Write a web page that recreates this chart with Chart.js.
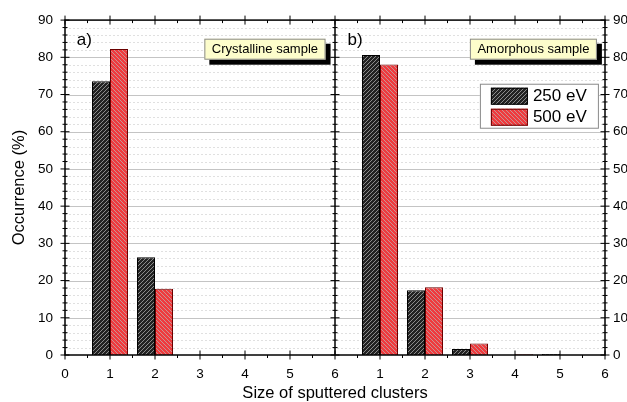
<!DOCTYPE html>
<html>
<head>
<meta charset="utf-8">
<script src="https://cdn.jsdelivr.net/npm/chart.js@4.4.0/dist/chart.umd.min.js"></script>
<style>
  html, body { margin: 0; padding: 0; background: #fff; }
  #wrap { width: 627px; height: 402px; }
</style>
</head>
<body>
<div id="wrap"><canvas id="chart"></canvas></div>
<script>
// cluster sizes and occurrence (%)
const sizes = [1, 2, 3, 4, 5];
const crystal250 = [73.6, 26.3, null, null, null];
const crystal500 = [82.2, 17.8, null, null, null];
const amorph250 = [80.6, 17.4, 1.6, null, 0.3];
const amorph500 = [78.1, 18.2, 3.1, 0.2, null];
const energies = ['250 eV', '500 eV'];
const panelLabels = ['a)', 'b)'];
const sampleLabels = ['Crystalline sample', 'Amorphous sample'];
const SHIFT = 6; // right panel starts where the left one ends

const FONT = 'Arial, "Liberation Sans", Helvetica, sans-serif';

function hatch(bg, line, dir) {
  const s = 4;
  const c = document.createElement('canvas');
  c.width = s; c.height = s;
  const g = c.getContext('2d');
  g.fillStyle = bg;
  g.fillRect(0, 0, s, s);
  g.strokeStyle = line;
  g.lineWidth = 0.9;
  g.beginPath();
  if (dir > 0) {
    g.moveTo(-1, s + 1); g.lineTo(s + 1, -1);
    g.moveTo(-1, 1); g.lineTo(1, -1);
    g.moveTo(s - 1, s + 1); g.lineTo(s + 1, s - 1);
  } else {
    g.moveTo(-1, -1); g.lineTo(s + 1, s + 1);
    g.moveTo(-1, s - 1); g.lineTo(1, s + 1);
    g.moveTo(s - 1, -1); g.lineTo(s + 1, 1);
  }
  g.stroke();
  return document.getElementById('chart').getContext('2d').createPattern(c, 'repeat');
}

const blackFill = hatch('#222', '#999', 1);
const redFill = hatch('#f03a3d', '#c49c9c', -1);

function points(left, right) {
  const a = sizes.map((s, i) => ({ x: s, y: left[i] }));
  const b = sizes.map((s, i) => ({ x: s + SHIFT, y: right[i] }));
  return a.concat(b).filter(p => p.y !== null);
}

const decor = {
  id: 'decor',
  beforeDatasetsDraw(chart) {
    const { ctx, chartArea: a, scales: { y } } = chart;
    ctx.save();
    for (let v = 2; v < 90; v += 2) {
      const py = Math.round(y.getPixelForValue(v)) + 0.5;
      ctx.beginPath();
      if (v % 10 === 0) {
        ctx.setLineDash([]);
        ctx.strokeStyle = '#c4c4c4';
      } else {
        ctx.setLineDash([2, 2]);
        ctx.strokeStyle = '#e0e0e0';
      }
      ctx.lineWidth = 1;
      ctx.moveTo(a.left, py);
      ctx.lineTo(a.right, py);
      ctx.stroke();
    }
    ctx.restore();
  },
  afterDatasetsDraw(chart) {
    const { ctx, chartArea: a, scales: { x, y } } = chart;
    ctx.save();
    ctx.strokeStyle = '#000';
    ctx.fillStyle = '#000';
    ctx.lineWidth = 1.5;
    // frame and shared middle axis
    ctx.strokeRect(a.left, a.top, a.right - a.left, a.bottom - a.top);
    const mid = x.getPixelForValue(SHIFT);
    ctx.beginPath();
    ctx.moveTo(mid, a.top); ctx.lineTo(mid, a.bottom);
    ctx.stroke();

    ctx.lineWidth = 1;
    // y ticks on the three vertical axes
    [a.left, mid, a.right].forEach(px => {
      for (let v = 0; v <= 90; v += 2) {
        const py = y.getPixelForValue(v);
        const L = v % 10 === 0 ? 4.5 : 2.5;
        ctx.beginPath();
        ctx.moveTo(px - L, py); ctx.lineTo(px + L, py);
        ctx.stroke();
      }
    });
    // x ticks on bottom and top
    for (let v = 0; v <= 12; v += 0.5) {
      const px = x.getPixelForValue(v);
      const major = v % 1 === 0;
      const L = major ? 4.5 : 3;
      ctx.beginPath();
      ctx.moveTo(px, a.bottom - (major ? L : 0)); ctx.lineTo(px, a.bottom + L);
      ctx.moveTo(px, a.top - (major ? L : 0)); ctx.lineTo(px, a.top + L);
      ctx.stroke();
    }

    // panel letters
    ctx.font = '17px ' + FONT;
    ctx.textBaseline = 'middle';
    ctx.textAlign = 'left';
    ctx.fillText(panelLabels[0], x.getPixelForValue(0.26), y.getPixelForValue(84.5));
    ctx.fillText(panelLabels[1], x.getPixelForValue(SHIFT + 0.28), y.getPixelForValue(84.5));

    // sample boxes with drop shadow
    ctx.font = '13px ' + FONT;
    [[5.79, sampleLabels[0]], [SHIFT + 5.82, sampleLabels[1]]].forEach(([xr, txt]) => {
      const w = ctx.measureText(txt).width + 15;
      const h = 21;
      const r = x.getPixelForValue(xr);
      const t = y.getPixelForValue(85);
      ctx.fillStyle = '#000';
      ctx.fillRect(r - w + 5, t + 5, w, h);
      ctx.fillStyle = '#fdfdcb';
      ctx.fillRect(r - w, t, w, h);
      ctx.strokeStyle = '#8a8a8a';
      ctx.strokeRect(r - w + 0.5, t + 0.5, w - 1, h - 1);
      ctx.fillStyle = '#000';
      ctx.textAlign = 'center';
      ctx.fillText(txt, r - w / 2, t + h / 2 + 0.5);
    });

    // legend
    const lx = x.getPixelForValue(SHIFT + 3.22);
    const ly = y.getPixelForValue(72.9);
    ctx.fillStyle = '#fff';
    ctx.fillRect(lx, ly, 119, 44);
    ctx.strokeStyle = '#8a8a8a';
    ctx.strokeRect(lx + 0.5, ly + 0.5, 118, 44);
    const fills = [blackFill, redFill];
    const edges = ['#000', '#6a0000'];
    ctx.font = '17px ' + FONT;
    ctx.textAlign = 'left';
    energies.forEach((lab, i) => {
      const sy = ly + 4 + i * 21;
      ctx.fillStyle = fills[i];
      ctx.fillRect(lx + 11, sy, 37, 17);
      ctx.strokeStyle = edges[i];
      ctx.strokeRect(lx + 11.5, sy + 0.5, 36, 16);
      ctx.fillStyle = '#000';
      ctx.fillText(lab, lx + 53, sy + 9);
    });
    ctx.restore();
  }
};

const yAxis = (pos, w, pad) => ({
  type: 'linear',
  position: pos,
  min: 0,
  max: 90,
  ticks: { stepSize: 10, padding: pad, color: '#000', font: { family: FONT, size: 13.5 } },
  grid: { display: false, drawTicks: false },
  border: { display: false },
  afterFit: s => { s.width = w; }
});

new Chart(document.getElementById('chart'), {
  type: 'bar',
  data: {
    datasets: [
      {
        label: energies[0],
        data: points(crystal250, amorph250),
        backgroundColor: blackFill,
        borderColor: '#000',
        borderWidth: 1
      },
      {
        label: energies[1],
        data: points(crystal500, amorph500),
        backgroundColor: redFill,
        borderColor: '#6a0000',
        borderWidth: 1
      }
    ]
  },
  options: {
    responsive: true,
    maintainAspectRatio: false,
    animation: false,
    categoryPercentage: 0.8,
    barPercentage: 1,
    layout: { padding: { top: 18, left: 0, right: 0, bottom: 0 } },
    plugins: { legend: { display: false }, tooltip: { enabled: false } },
    scales: {
      x: {
        type: 'linear',
        min: 0,
        max: 12,
        offset: false,
        ticks: {
          stepSize: 1,
          padding: 11,
          color: '#000',
          font: { family: FONT, size: 13.5 },
          callback: v => v === SHIFT ? String(SHIFT) : v > SHIFT ? String(v - SHIFT) : String(v)
        },
        grid: { display: false, drawTicks: false, offset: false },
        border: { display: false },
        title: {
          display: true,
          text: 'Size of sputtered clusters',
          color: '#000',
          font: { family: FONT, size: 16.5, lineHeight: 1 },
          padding: { top: 0, bottom: 0 }
        },
        afterFit: s => { s.height = 47; }
      },
      y: {
        ...yAxis('left', 65, 12),
        title: {
          display: true,
          text: 'Occurrence (%)',
          color: '#000',
          font: { family: FONT, size: 16.5, lineHeight: 1 },
          padding: { top: 11, bottom: 0 }
        }
      },
      y2: yAxis('right', 22, 8)
    }
  },
  plugins: [decor]
});
</script>
</body>
</html>
